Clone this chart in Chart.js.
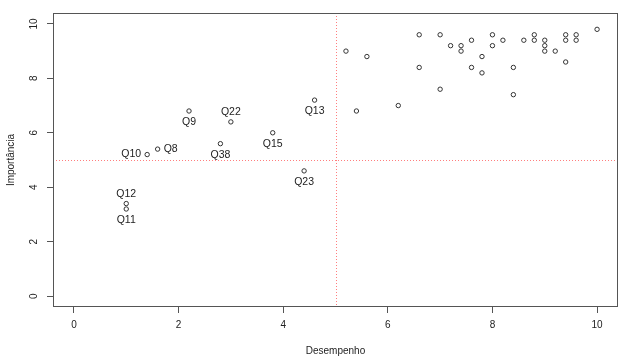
<!DOCTYPE html>
<html><head><meta charset="utf-8">
<script src="https://cdn.jsdelivr.net/npm/chart.js@4/dist/chart.umd.min.js"></script>
<style>html,body{margin:0;padding:0;background:#fff}#wrap{width:627px;height:360px}</style>
</head><body><div id="wrap"><canvas id="c" width="627" height="360"></canvas></div>
<script>
// ---- data ----
const tickVals = [0, 2, 4, 6, 8, 10];
const axisMin = -0.4, axisMax = 10.4;
const refDesempenho = 5, refImportancia = 5;
const xTitle = 'Desempenho';
const yTitle = 'Importância';

const labeledNames       = ['Q8', 'Q9', 'Q10', 'Q11', 'Q12', 'Q13', 'Q15', 'Q22', 'Q23', 'Q38'];
const labeledDesempenho  = [1.6, 2.2, 1.4, 1.0, 1.0, 4.6, 3.8, 3.0, 4.4, 2.8];
const labeledImportancia = [5.4, 6.8, 5.2, 3.2, 3.4, 7.2, 6.0, 6.4, 4.6, 5.6];
const labelSide          = ['right', 'below', 'left', 'below', 'above', 'below', 'below', 'above', 'below', 'below'];

const otherDesempenho  = [5.2, 5.6, 5.4, 6.2, 6.6, 6.6, 7.0, 7.0, 7.2, 7.4, 7.4, 7.6, 7.6, 7.8, 7.8, 8.0, 8.0,
                          8.2, 8.4, 8.4, 8.6, 8.8, 8.8, 9.0, 9.0, 9.0, 9.2, 9.4, 9.4, 9.4, 9.6, 9.6, 10.0];
const otherImportancia = [9.0, 8.8, 6.8, 7.0, 9.6, 8.4, 9.6, 7.6, 9.2, 9.2, 9.0, 9.4, 8.4, 8.8, 8.2, 9.6, 9.2,
                          9.4, 8.4, 7.4, 9.4, 9.6, 9.4, 9.4, 9.2, 9.0, 9.0, 9.6, 9.4, 8.6, 9.6, 9.4, 9.8];

// ---- chart ----
const FONT = 'Liberation Sans, Arial, Helvetica, sans-serif';
const TXT = '#222';
const AX = '#555';

const toPts = (xs, ys) => xs.map((x, i) => ({x: x, y: ys[i]}));

const pointStyle = {
  pointStyle: 'circle', pointRadius: 2.2, pointHoverRadius: 2.2,
  pointBorderWidth: 1, pointBorderColor: '#333', pointBackgroundColor: 'rgba(0,0,0,0)',
  showLine: false
};

const boxPlugin = {
  id: 'box',
  beforeDatasetsDraw(chart) {
    const {ctx, chartArea: a, scales} = chart;
    ctx.save();
    // reference lines
    ctx.strokeStyle = 'rgba(255,40,40,0.6)';
    ctx.lineWidth = 1;
    ctx.setLineDash([1, 2]);
    const vx = Math.round(scales.x.getPixelForValue(refDesempenho)) + 0.5;
    const hy = Math.round(scales.y.getPixelForValue(refImportancia)) + 0.5;
    ctx.beginPath(); ctx.moveTo(vx, a.top); ctx.lineTo(vx, a.bottom); ctx.stroke();
    ctx.beginPath(); ctx.moveTo(a.left, hy); ctx.lineTo(a.right, hy); ctx.stroke();
    ctx.setLineDash([]);
    // box
    ctx.strokeStyle = AX;
    ctx.strokeRect(Math.round(a.left) + 0.5, Math.round(a.top) + 0.5,
                   Math.round(a.right - a.left) - 1, Math.round(a.bottom - a.top) - 1);
    ctx.restore();
  }
};

const labelPlugin = {
  id: 'ptlabels',
  afterDatasetsDraw(chart) {
    const {ctx} = chart;
    const meta = chart.getDatasetMeta(0);
    ctx.save();
    ctx.font = '10.5px ' + FONT;
    ctx.fillStyle = TXT;
    meta.data.forEach((el, i) => {
      const side = labelSide[i];
      let x = el.x, y = el.y;
      ctx.textAlign = 'center'; ctx.textBaseline = 'middle';
      if (side === 'below') y += 11;
      else if (side === 'above') y -= 9.5;
      else if (side === 'left') { x -= 6; ctx.textAlign = 'right'; }
      else if (side === 'right') { x += 6; ctx.textAlign = 'left'; }
      ctx.fillText(labeledNames[i], x, y);
    });
    ctx.restore();
  }
};

const setTicks = s => { s.ticks = tickVals.map(v => ({value: v})); };

new Chart(document.getElementById('c'), {
  type: 'scatter',
  data: {
    datasets: [
      Object.assign({label: 'labeled', data: toPts(labeledDesempenho, labeledImportancia)}, pointStyle),
      Object.assign({label: 'other', data: toPts(otherDesempenho, otherImportancia)}, pointStyle)
    ]
  },
  options: {
    responsive: false,
    devicePixelRatio: 1,
    animation: false,
    events: [],
    layout: {padding: {left: 0, right: 9, top: 11, bottom: 0}},
    plugins: {legend: {display: false}, tooltip: {enabled: false}},
    scales: {
      x: {
        type: 'linear', min: axisMin, max: axisMax,
        afterBuildTicks: setTicks,
        afterFit: s => { s.height = 53; },
        grid: {drawOnChartArea: false, drawTicks: true, tickLength: 6, color: AX, lineWidth: 1},
        border: {display: false},
        ticks: {font: {family: FONT, size: 10}, color: TXT, padding: 6, maxRotation: 0, autoSkip: false},
        title: {display: true, text: xTitle, font: {family: FONT, size: 10}, color: TXT, padding: {top: 0, bottom: 3}}
      },
      y: {
        type: 'linear', min: axisMin, max: axisMax,
        afterBuildTicks: setTicks,
        afterFit: s => { s.width = 53; },
        grid: {drawOnChartArea: false, drawTicks: true, tickLength: 6, color: AX, lineWidth: 1},
        border: {display: false},
        ticks: {font: {family: FONT, size: 10}, color: TXT, padding: 7, minRotation: 90, maxRotation: 90,
                crossAlign: 'center', autoSkip: false},
        title: {display: true, text: yTitle, font: {family: FONT, size: 10}, color: TXT, padding: {top: 5, bottom: 0}}
      }
    }
  },
  plugins: [boxPlugin, labelPlugin]
});
</script>
</body></html>
